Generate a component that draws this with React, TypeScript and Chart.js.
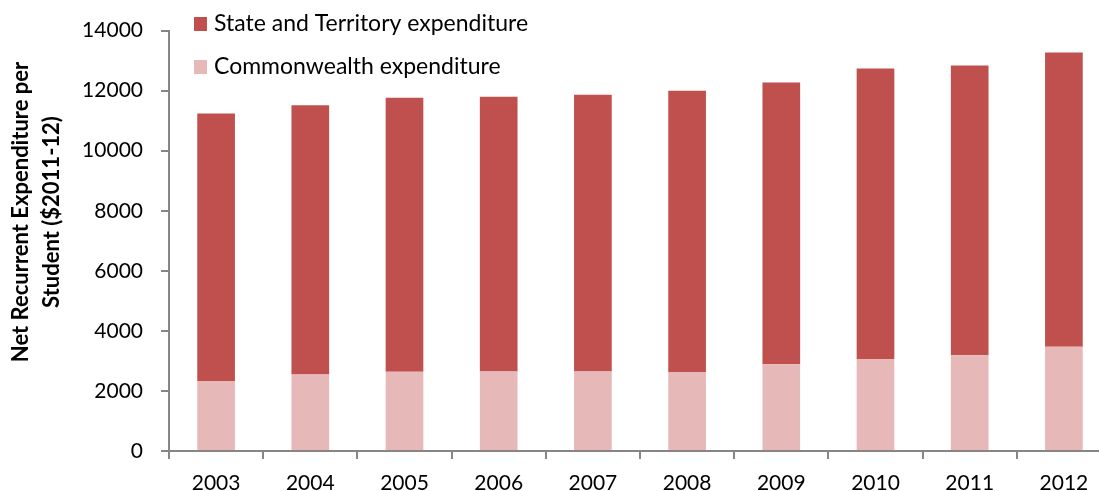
import React, { useEffect, useRef } from "react";
import { Chart, registerables } from "chart.js";

Chart.register(...registerables);

const years = ["2003", "2004", "2005", "2006", "2007", "2008", "2009", "2010", "2011", "2012"];
const commonwealth = [2330, 2550, 2640, 2650, 2650, 2630, 2890, 3060, 3190, 3470];
const stateTerritory = [8910, 8960, 9120, 9150, 9210, 9370, 9380, 9680, 9650, 9800];
const yTicks = [0, 2000, 4000, 6000, 8000, 10000, 12000, 14000];
const yTitle = ["Net Recurrent Expenditure per", "Student ($2011-12)"];

const FONT = "Lato, 'Open Sans', sans-serif";
const AXIS = "#868686";

const legendPlugin = {
  id: "insideLegend",
  afterDraw(chart: any) {
    const ctx = chart.ctx;
    const ds = chart.data.datasets.slice().reverse();
    ctx.save();
    ctx.font = `23px ${FONT}`;
    ctx.textBaseline = "middle";
    ctx.textAlign = "left";
    ds.forEach((d: any, i: number) => {
      const cy = 24 + i * 43;
      ctx.fillStyle = d.backgroundColor;
      ctx.fillRect(194, cy - 7, 13, 14);
      ctx.fillStyle = "#000";
      ctx.fillText(d.label, 214, cy);
    });
    ctx.restore();
  },
};

const titlePlugin = {
  id: "yTitle",
  afterDraw(chart: any) {
    const ctx = chart.ctx;
    ctx.save();
    ctx.font = `bold 22px ${FONT}`;
    ctx.fillStyle = "#000";
    ctx.textAlign = "center";
    ctx.textBaseline = "middle";
    ctx.translate(21, 212);
    ctx.rotate(-Math.PI / 2);
    yTitle.forEach((line, i) => ctx.fillText(line, 0, i * 31));
    ctx.restore();
  },
};

export default function App() {
  const ref = useRef<HTMLCanvasElement>(null);
  useEffect(() => {
    if (!ref.current) return;
    const chart = new Chart(ref.current, {
      type: "bar",
      data: {
        labels: years,
        datasets: [
          { label: "Commonwealth expenditure", data: commonwealth, backgroundColor: "#E6B9B8", barPercentage: 0.4, categoryPercentage: 1 },
          { label: "State and Territory expenditure", data: stateTerritory, backgroundColor: "#C0504D", barPercentage: 0.4, categoryPercentage: 1 },
        ],
      },
      options: {
        animation: false,
        responsive: false,
        devicePixelRatio: 1,
        layout: { padding: { top: 21, right: 19, bottom: 0, left: 0 } },
        plugins: { legend: { display: false }, tooltip: { enabled: false } },
        scales: {
          x: {
            stacked: true,
            afterFit: (s: any) => { s.height = 40; },
            grid: { drawOnChartArea: false, tickLength: 8, color: AXIS, lineWidth: 2 },
            border: { color: AXIS, width: 2 },
            ticks: { color: "#000", font: { family: FONT, size: 21 }, padding: 12, maxRotation: 0 },
          },
          y: {
            stacked: true,
            min: 0,
            max: 14000,
            afterFit: (s: any) => { s.width = 169; },
            afterBuildTicks: (s: any) => { s.ticks = yTicks.map((v) => ({ value: v })); },
            grid: { drawOnChartArea: false, tickLength: 8, color: AXIS, lineWidth: 2 },
            border: { color: AXIS, width: 2 },
            ticks: {
              color: "#000",
              font: { family: FONT, size: 21 },
              padding: 18,
              callback: (v: any) => String(v),
            },
            title: { display: false },
          },
        },
      },
      plugins: [legendPlugin, titlePlugin],
    });
    return () => chart.destroy();
  }, []);
  return (
    <div style={{ position: "fixed", left: 0, top: 0, width: 1099, height: 491, overflow: "hidden", background: "#fff" }}>
      <canvas ref={ref} width={1130} height={491} style={{ display: "block" }} />
    </div>
  );
}
